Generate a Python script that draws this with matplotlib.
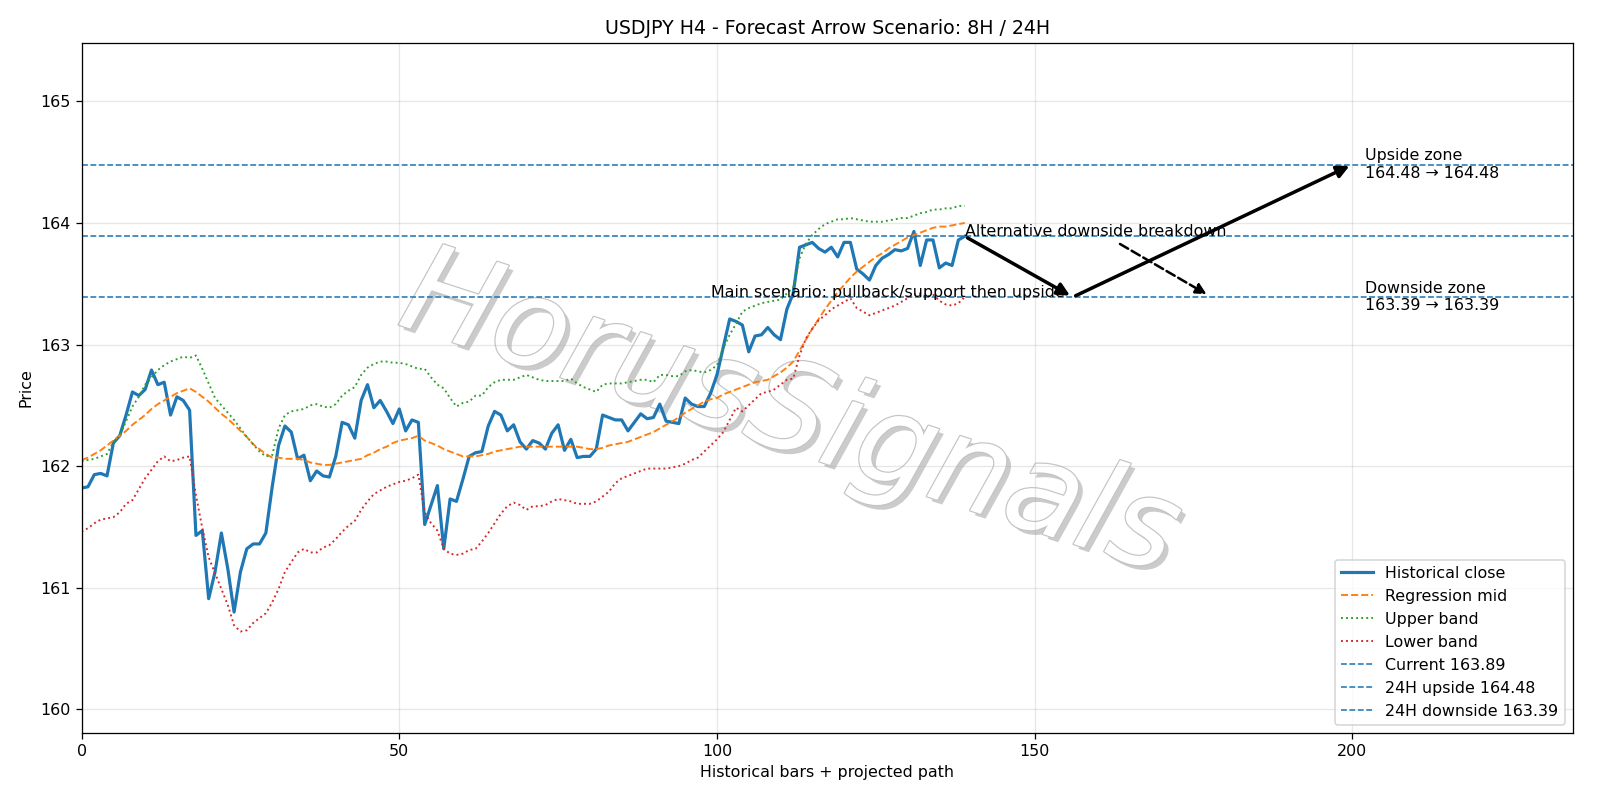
import numpy as np
import matplotlib.pyplot as plt
import matplotlib.patheffects as pe

# historical H4 closes
close = [161.82, 161.83, 161.93, 161.94, 161.92, 162.19, 162.25, 162.42, 162.61, 162.58,
         162.63, 162.79, 162.67, 162.69, 162.42, 162.57, 162.54, 162.46, 161.43, 161.47,
         160.91, 161.13, 161.45, 161.16, 160.80, 161.13, 161.32, 161.36, 161.36, 161.45,
         161.83, 162.17, 162.33, 162.28, 162.06, 162.09, 161.88, 161.96, 161.92, 161.91,
         162.08, 162.36, 162.34, 162.23, 162.54, 162.67, 162.48, 162.54, 162.45, 162.35,
         162.47, 162.29, 162.38, 162.36, 161.52, 161.68, 161.84, 161.32, 161.73, 161.71,
         161.89, 162.08, 162.11, 162.12, 162.33, 162.45, 162.42, 162.29, 162.34, 162.20,
         162.14, 162.21, 162.19, 162.14, 162.27, 162.34, 162.13, 162.22, 162.07, 162.08,
         162.08, 162.14, 162.42, 162.40, 162.38, 162.38, 162.29, 162.36, 162.43, 162.39,
         162.40, 162.51, 162.37, 162.36, 162.35, 162.56, 162.51, 162.49, 162.49, 162.60,
         162.75, 162.98, 163.21, 163.19, 163.16, 162.94, 163.07, 163.08, 163.14, 163.08,
         163.04, 163.29, 163.42, 163.80, 163.82, 163.84, 163.79, 163.76, 163.80, 163.72,
         163.84, 163.84, 163.62, 163.58, 163.53, 163.65, 163.71, 163.74, 163.78, 163.77,
         163.79, 163.93, 163.65, 163.86, 163.86, 163.63, 163.67, 163.65, 163.86, 163.89]

mid = [162.05, 162.07, 162.10, 162.13, 162.17, 162.21, 162.25, 162.29, 162.34, 162.38,
       162.42, 162.47, 162.51, 162.54, 162.57, 162.60, 162.62, 162.64, 162.61, 162.57,
       162.53, 162.48, 162.43, 162.39, 162.34, 162.29, 162.24, 162.18, 162.14, 162.10,
       162.07, 162.07, 162.06, 162.06, 162.06, 162.05, 162.03, 162.02, 162.01, 162.01,
       162.02, 162.03, 162.04, 162.05, 162.06, 162.09, 162.11, 162.14, 162.16, 162.19,
       162.21, 162.22, 162.23, 162.25, 162.21, 162.19, 162.17, 162.14, 162.12, 162.10,
       162.08, 162.08, 162.08, 162.09, 162.10, 162.12, 162.13, 162.14, 162.15, 162.16,
       162.16, 162.16, 162.16, 162.16, 162.16, 162.16, 162.16, 162.16, 162.16, 162.15,
       162.14, 162.14, 162.15, 162.17, 162.18, 162.19, 162.20, 162.22, 162.24, 162.26,
       162.28, 162.31, 162.34, 162.37, 162.40, 162.44, 162.47, 162.50, 162.53, 162.55,
       162.56, 162.59, 162.61, 162.63, 162.65, 162.67, 162.69, 162.70, 162.71, 162.74,
       162.77, 162.81, 162.86, 162.95, 163.04, 163.13, 163.21, 163.29, 163.36, 163.43,
       163.49, 163.55, 163.60, 163.64, 163.68, 163.72, 163.75, 163.79, 163.82, 163.85,
       163.88, 163.90, 163.92, 163.94, 163.96, 163.97, 163.97, 163.98, 163.99, 164.00]

upper = [162.04, 162.05, 162.06, 162.08, 162.10, 162.20, 162.25, 162.37, 162.49, 162.57,
         162.67, 162.73, 162.79, 162.83, 162.86, 162.88, 162.90, 162.89, 162.91, 162.80,
         162.68, 162.56, 162.50, 162.44, 162.38, 162.31, 162.24, 162.18, 162.12, 162.08,
         162.09, 162.31, 162.42, 162.45, 162.46, 162.47, 162.50, 162.51, 162.49, 162.48,
         162.51, 162.58, 162.62, 162.65, 162.75, 162.81, 162.84, 162.86, 162.86, 162.85,
         162.85, 162.84, 162.82, 162.80, 162.80, 162.73, 162.67, 162.64, 162.56, 162.49,
         162.52, 162.53, 162.58, 162.58, 162.65, 162.69, 162.71, 162.71, 162.71, 162.73,
         162.75, 162.73, 162.71, 162.70, 162.70, 162.70, 162.70, 162.72, 162.68, 162.65,
         162.63, 162.61, 162.67, 162.68, 162.68, 162.68, 162.69, 162.70, 162.71, 162.71,
         162.69, 162.75, 162.75, 162.74, 162.74, 162.78, 162.79, 162.78, 162.77, 162.79,
         162.83, 162.97, 163.08, 163.17, 163.27, 163.30, 163.32, 163.34, 163.35, 163.36,
         163.37, 163.42, 163.47, 163.71, 163.83, 163.90, 163.95, 163.99, 164.01, 164.03,
         164.03, 164.04, 164.03, 164.02, 164.01, 164.01, 164.01, 164.02, 164.03, 164.04,
         164.04, 164.06, 164.08, 164.09, 164.11, 164.11, 164.12, 164.12, 164.14, 164.14]

lower = [161.46, 161.49, 161.53, 161.56, 161.57, 161.58, 161.62, 161.69, 161.72, 161.81,
         161.90, 161.97, 162.04, 162.08, 162.04, 162.05, 162.07, 162.08, 161.76, 161.49,
         161.25, 161.12, 160.99, 160.86, 160.69, 160.64, 160.65, 160.71, 160.75, 160.79,
         160.88, 160.99, 161.13, 161.21, 161.29, 161.32, 161.29, 161.29, 161.33, 161.35,
         161.40, 161.46, 161.51, 161.55, 161.64, 161.71, 161.77, 161.80, 161.83, 161.85,
         161.87, 161.88, 161.90, 161.93, 161.62, 161.53, 161.47, 161.32, 161.28, 161.27,
         161.28, 161.31, 161.32, 161.38, 161.45, 161.53, 161.61, 161.67, 161.70, 161.68,
         161.64, 161.67, 161.67, 161.68, 161.71, 161.73, 161.72, 161.71, 161.69, 161.69,
         161.69, 161.71, 161.75, 161.79, 161.86, 161.90, 161.92, 161.94, 161.96, 161.98,
         161.98, 161.98, 161.98, 161.99, 162.00, 162.02, 162.05, 162.07, 162.12, 162.17,
         162.22, 162.28, 162.38, 162.48, 162.45, 162.50, 162.55, 162.60, 162.61, 162.63,
         162.67, 162.71, 162.72, 162.91, 163.05, 163.13, 163.20, 163.24, 163.29, 163.32,
         163.35, 163.38, 163.30, 163.27, 163.24, 163.26, 163.28, 163.30, 163.32, 163.35,
         163.38, 163.41, 163.42, 163.39, 163.41, 163.36, 163.33, 163.32, 163.34, 163.39]

current = 163.89
up_24h = 164.48
down_24h = 163.39

# scenario path points (bar index, price)
main_path_x = [139, 156, 200]
main_path_y = [current, down_24h, up_24h]
alt_path_x = [163, 177.5]
alt_path_y = [163.84, 163.40]

x = np.arange(len(close))

fig, ax = plt.subplots(figsize=(14, 7), dpi=1600 / 14)
fig.subplots_adjust(left=0.051, right=0.983, top=0.946, bottom=0.084)

# watermark
ax.text(0.475, 0.46, "HorusSignals", transform=ax.transAxes, fontsize=78,
        style='italic', color='white', ha='center', va='center', rotation=-18,
        zorder=0,
        path_effects=[pe.SimplePatchShadow(offset=(3, -3), shadow_rgbFace='#8c8c8c', alpha=0.45),
                      pe.Stroke(linewidth=1.5, foreground='#c4c4c4'),
                      pe.Normal()])

ax.plot(x, close, color='C0', lw=2, label='Historical close')
ax.plot(x, mid, color='C1', ls='--', lw=1.2, label='Regression mid')
ax.plot(x, upper, color='C2', ls=':', lw=1.2, label='Upper band')
ax.plot(x, lower, color='C3', ls=':', lw=1.2, label='Lower band')

ax.axhline(current, color='C0', ls='--', lw=1, label=f'Current {current:.2f}')
ax.axhline(up_24h, color='C0', ls='--', lw=1, label=f'24H upside {up_24h:.2f}')
ax.axhline(down_24h, color='C0', ls='--', lw=1, label=f'24H downside {down_24h:.2f}')

# main scenario arrows
for i in range(len(main_path_x) - 1):
    ax.annotate("", xy=(main_path_x[i + 1], main_path_y[i + 1]),
                xytext=(main_path_x[i], main_path_y[i]),
                arrowprops=dict(arrowstyle='-|>', lw=2.2, color='black', mutation_scale=16))
# alternative
ax.annotate("", xy=(alt_path_x[1], alt_path_y[1]), xytext=(alt_path_x[0], alt_path_y[0]),
            arrowprops=dict(arrowstyle='-|>', lw=1.6, ls='--', color='black', mutation_scale=14))

ax.text(99, down_24h, "Main scenario: pullback/support then upside", fontsize=10)
ax.text(139, current, "Alternative downside breakdown", fontsize=10)
ax.text(202, up_24h, f"Upside zone\n{up_24h:.2f} \u2192 {up_24h:.2f}", va='center', fontsize=10)
ax.text(202, down_24h, f"Downside zone\n{down_24h:.2f} \u2192 {down_24h:.2f}", va='center', fontsize=10)

ax.set_xlim(0, 234.7)
ax.set_ylim(159.807, 165.478)
ax.set_title("USDJPY H4 - Forecast Arrow Scenario: 8H / 24H")
ax.set_xlabel("Historical bars + projected path")
ax.set_ylabel("Price")
ax.grid(True, alpha=0.3)
ax.legend(loc='lower right')

plt.savefig('out.png')
